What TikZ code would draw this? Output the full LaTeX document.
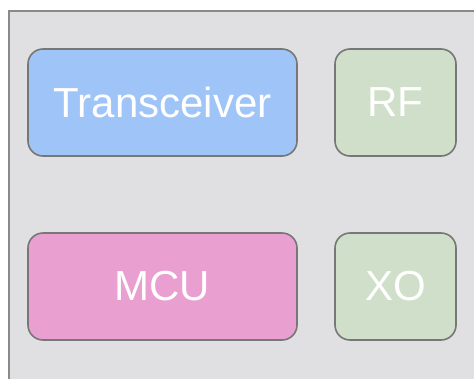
\documentclass[tikz,border=0pt]{standalone}
\usepackage{fontspec}
\setmainfont{Liberation Sans}
\definecolor{bgc}{HTML}{E0E0E2}
\definecolor{framec}{HTML}{8A8A8A}
\definecolor{boxline}{HTML}{777777}
\definecolor{bluec}{HTML}{9FC5F8}
\definecolor{pinkc}{HTML}{EA9FD1}
\definecolor{greenc}{HTML}{D0DFC9}
\tikzset{
  block/.style={draw=boxline, line width=1.6pt, rounded corners=15pt,
    text=white, font=\fontsize{42}{42}\selectfont, inner sep=0pt,
    minimum height=107pt},
  wide/.style={block, minimum width=269pt},
  small/.style={block, minimum width=121pt}
}
\begin{document}
\begin{tikzpicture}[x=1pt,y=-1pt]
\useasboundingbox (0,0) rectangle (474,378);
\fill[white] (0,0) rectangle (474,378);
\draw[fill=bgc, draw=framec, line width=2pt] (9,11) rectangle (490,395);
\node[wide, fill=bluec] (trx) at (162.5,102.5) {Transceiver};
\node[small, fill=greenc] (rf) at (395.5,102.5) {RF};
\node[wide, fill=pinkc] (mcu) at (162.5,286.5) {MCU};
\node[small, fill=greenc] (xo) at (395.5,286.5) {XO};
\end{tikzpicture}
\end{document}
